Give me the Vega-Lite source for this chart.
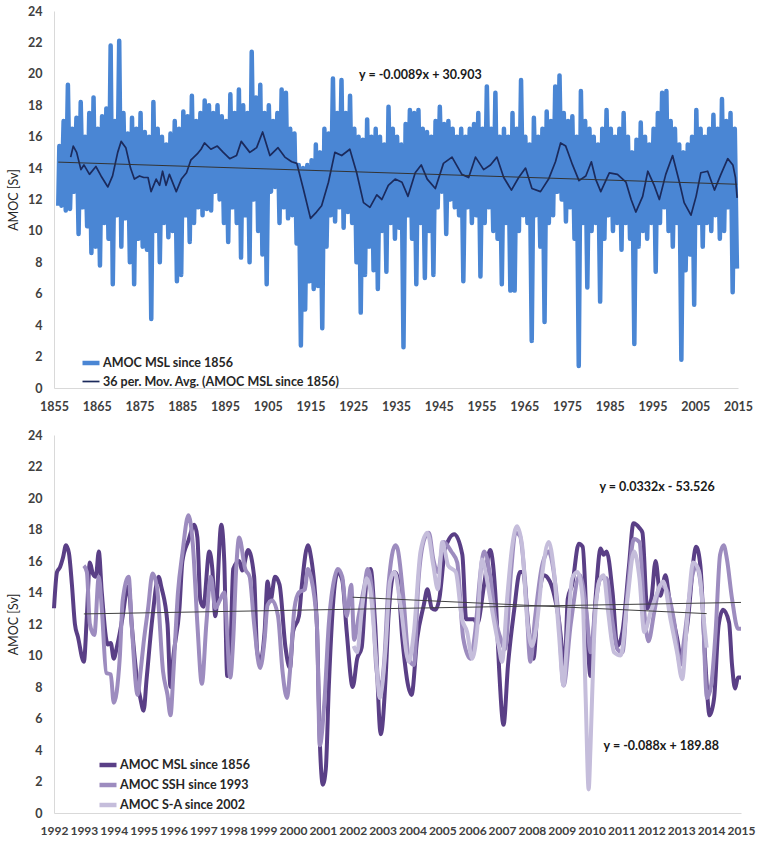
{
"$schema":"https://vega.github.io/schema/vega-lite/v6.json",
"padding":{"left":7,"top":5,"right":5,"bottom":5},
"background":"white",
"config":{"font":"Lato","view":{"stroke":null},
"axis":{"labelFont":"Lato","labelFontWeight":"bold","labelFontSize":12.5,"labelColor":"#404040","domainColor":"#d9d9d9","domainWidth":1,"ticks":false,"grid":false,"labelOverlap":false,"titleFont":"Lato","titleFontWeight":"normal","titleFontSize":12.5,"titleColor":"#262626"},
"legend":{"labelFont":"Lato","labelFontWeight":"bold","labelFontSize":12.5,"labelColor":"#262626","labelLimit":0,"symbolType":"stroke","symbolSize":289,"rowPadding":-2,"labelOffset":1},
"concat":{"spacing":16}},
"resolve":{"scale":{"color":"independent","strokeWidth":"independent","x":"independent","y":"independent"},"legend":{"color":"independent","strokeWidth":"independent"}},
"datasets":{
"top":[{"t":1856.0,"v":11.6},{"t":1856.25,"v":15.4},{"t":1856.75,"v":11.6},{"t":1857.25,"v":17.0},{"t":1857.75,"v":11.3},{"t":1858.25,"v":19.3},{"t":1858.75,"v":11.4},{"t":1859.25,"v":16.5},{"t":1859.75,"v":12.5},{"t":1860.25,"v":17.2},{"t":1860.75,"v":9.8},{"t":1861.25,"v":18.2},{"t":1861.75,"v":11.5},{"t":1862.25,"v":16.0},{"t":1862.75,"v":10.3},{"t":1863.25,"v":17.5},{"t":1863.75,"v":8.6},{"t":1864.25,"v":18.5},{"t":1864.75,"v":9.0},{"t":1865.25,"v":16.5},{"t":1865.75,"v":7.8},{"t":1866.25,"v":17.3},{"t":1866.75,"v":10.5},{"t":1867.25,"v":17.8},{"t":1867.75,"v":9.5},{"t":1868.25,"v":21.8},{"t":1868.75,"v":6.6},{"t":1869.25,"v":17.0},{"t":1869.75,"v":11.0},{"t":1870.25,"v":22.1},{"t":1870.75,"v":9.0},{"t":1871.25,"v":17.5},{"t":1871.75,"v":10.8},{"t":1872.25,"v":16.2},{"t":1872.75,"v":8.0},{"t":1873.25,"v":17.2},{"t":1873.75,"v":6.6},{"t":1874.25,"v":16.5},{"t":1874.75,"v":9.5},{"t":1875.25,"v":17.5},{"t":1875.75,"v":9.0},{"t":1876.25,"v":16.3},{"t":1876.75,"v":8.8},{"t":1877.25,"v":16.0},{"t":1877.75,"v":4.4},{"t":1878.25,"v":18.2},{"t":1878.75,"v":10.0},{"t":1879.25,"v":16.5},{"t":1879.75,"v":8.0},{"t":1880.25,"v":16.0},{"t":1880.75,"v":10.5},{"t":1881.25,"v":15.5},{"t":1881.75,"v":9.6},{"t":1882.25,"v":16.2},{"t":1882.75,"v":10.0},{"t":1883.25,"v":17.0},{"t":1883.75,"v":6.8},{"t":1884.25,"v":16.5},{"t":1884.75,"v":7.2},{"t":1885.25,"v":17.6},{"t":1885.75,"v":11.0},{"t":1886.25,"v":17.3},{"t":1886.75,"v":9.3},{"t":1887.25,"v":18.6},{"t":1887.75,"v":10.5},{"t":1888.25,"v":17.0},{"t":1888.75,"v":11.5},{"t":1889.25,"v":17.5},{"t":1889.75,"v":11.0},{"t":1890.25,"v":18.3},{"t":1890.75,"v":11.4},{"t":1891.25,"v":18.0},{"t":1891.75,"v":11.3},{"t":1892.25,"v":17.5},{"t":1892.75,"v":12.5},{"t":1893.25,"v":18.0},{"t":1893.75,"v":12.0},{"t":1894.25,"v":17.3},{"t":1894.75,"v":10.5},{"t":1895.25,"v":17.0},{"t":1895.75,"v":9.3},{"t":1896.25,"v":18.7},{"t":1896.75,"v":11.5},{"t":1897.25,"v":17.5},{"t":1897.75,"v":10.5},{"t":1898.25,"v":19.0},{"t":1898.75,"v":8.3},{"t":1899.25,"v":18.0},{"t":1899.75,"v":11.0},{"t":1900.25,"v":17.5},{"t":1900.75,"v":8.0},{"t":1901.25,"v":21.4},{"t":1901.75,"v":12.0},{"t":1902.25,"v":18.5},{"t":1902.75,"v":10.0},{"t":1903.25,"v":19.3},{"t":1903.75,"v":8.5},{"t":1904.25,"v":17.5},{"t":1904.75,"v":6.6},{"t":1905.25,"v":18.0},{"t":1905.75,"v":12.5},{"t":1906.25,"v":17.0},{"t":1906.75,"v":12.8},{"t":1907.25,"v":17.5},{"t":1907.75,"v":10.5},{"t":1908.25,"v":19.0},{"t":1908.75,"v":11.5},{"t":1909.25,"v":18.8},{"t":1909.75,"v":10.8},{"t":1910.25,"v":16.5},{"t":1910.75,"v":11.0},{"t":1911.25,"v":16.2},{"t":1911.75,"v":9.2},{"t":1912.25,"v":14.2},{"t":1912.75,"v":2.7},{"t":1913.25,"v":14.0},{"t":1913.75,"v":5.0},{"t":1914.25,"v":14.2},{"t":1914.75,"v":6.8},{"t":1915.25,"v":14.5},{"t":1915.75,"v":6.3},{"t":1916.25,"v":15.5},{"t":1916.75,"v":6.5},{"t":1917.25,"v":15.0},{"t":1917.75,"v":3.8},{"t":1918.25,"v":16.5},{"t":1918.75,"v":9.0},{"t":1919.25,"v":16.2},{"t":1919.75,"v":11.0},{"t":1920.25,"v":19.7},{"t":1920.75,"v":10.6},{"t":1921.25,"v":17.5},{"t":1921.75,"v":11.5},{"t":1922.25,"v":19.6},{"t":1922.75,"v":10.2},{"t":1923.25,"v":17.5},{"t":1923.75,"v":11.2},{"t":1924.25,"v":18.6},{"t":1924.75,"v":10.5},{"t":1925.25,"v":16.5},{"t":1925.75,"v":8.0},{"t":1926.25,"v":16.0},{"t":1926.75,"v":4.8},{"t":1927.25,"v":15.8},{"t":1927.75,"v":7.2},{"t":1928.25,"v":17.1},{"t":1928.75,"v":9.0},{"t":1929.25,"v":16.0},{"t":1929.75,"v":7.5},{"t":1930.25,"v":16.5},{"t":1930.75,"v":6.3},{"t":1931.25,"v":16.0},{"t":1931.75,"v":10.0},{"t":1932.25,"v":15.5},{"t":1932.75,"v":7.4},{"t":1933.25,"v":17.9},{"t":1933.75,"v":10.5},{"t":1934.25,"v":16.5},{"t":1934.75,"v":9.5},{"t":1935.25,"v":16.0},{"t":1935.75,"v":10.2},{"t":1936.25,"v":15.5},{"t":1936.75,"v":2.6},{"t":1937.25,"v":16.8},{"t":1937.75,"v":11.0},{"t":1938.25,"v":17.7},{"t":1938.75,"v":9.5},{"t":1939.25,"v":17.5},{"t":1939.75,"v":6.6},{"t":1940.25,"v":17.7},{"t":1940.75,"v":10.5},{"t":1941.25,"v":16.5},{"t":1941.75,"v":7.0},{"t":1942.25,"v":16.3},{"t":1942.75,"v":10.0},{"t":1943.25,"v":16.0},{"t":1943.75,"v":7.2},{"t":1944.25,"v":17.0},{"t":1944.75,"v":11.5},{"t":1945.25,"v":17.9},{"t":1945.75,"v":12.5},{"t":1946.25,"v":16.8},{"t":1946.75,"v":9.8},{"t":1947.25,"v":17.0},{"t":1947.75,"v":12.0},{"t":1948.25,"v":16.5},{"t":1948.75,"v":11.5},{"t":1949.25,"v":16.0},{"t":1949.75,"v":11.0},{"t":1950.25,"v":16.5},{"t":1950.75,"v":6.8},{"t":1951.25,"v":16.0},{"t":1951.75,"v":11.5},{"t":1952.25,"v":16.5},{"t":1952.75,"v":10.5},{"t":1953.25,"v":16.8},{"t":1953.75,"v":11.0},{"t":1954.25,"v":17.5},{"t":1954.75,"v":7.1},{"t":1955.25,"v":16.5},{"t":1955.75,"v":10.5},{"t":1956.25,"v":19.2},{"t":1956.75,"v":11.5},{"t":1957.25,"v":16.5},{"t":1957.75,"v":10.0},{"t":1958.25,"v":18.8},{"t":1958.75,"v":9.5},{"t":1959.25,"v":16.0},{"t":1959.75,"v":6.6},{"t":1960.25,"v":16.5},{"t":1960.75,"v":10.5},{"t":1961.25,"v":16.0},{"t":1961.75,"v":6.2},{"t":1962.25,"v":17.5},{"t":1962.75,"v":6.2},{"t":1963.25,"v":16.5},{"t":1963.75,"v":10.0},{"t":1964.25,"v":19.6},{"t":1964.75,"v":11.0},{"t":1965.25,"v":16.0},{"t":1965.75,"v":10.5},{"t":1966.25,"v":15.5},{"t":1966.75,"v":3.0},{"t":1967.25,"v":17.2},{"t":1967.75,"v":11.0},{"t":1968.25,"v":16.0},{"t":1968.75,"v":9.0},{"t":1969.25,"v":16.5},{"t":1969.75,"v":4.2},{"t":1970.25,"v":17.6},{"t":1970.75,"v":10.5},{"t":1971.25,"v":17.0},{"t":1971.75,"v":11.0},{"t":1972.25,"v":19.2},{"t":1972.75,"v":12.5},{"t":1973.25,"v":19.9},{"t":1973.75,"v":12.0},{"t":1974.25,"v":17.5},{"t":1974.75,"v":10.6},{"t":1975.25,"v":17.0},{"t":1975.75,"v":11.5},{"t":1976.25,"v":17.3},{"t":1976.75,"v":9.5},{"t":1977.25,"v":16.0},{"t":1977.75,"v":1.4},{"t":1978.25,"v":18.9},{"t":1978.75,"v":10.5},{"t":1979.25,"v":17.0},{"t":1979.75,"v":6.4},{"t":1980.25,"v":16.5},{"t":1980.75,"v":10.0},{"t":1981.25,"v":16.0},{"t":1981.75,"v":10.5},{"t":1982.25,"v":15.5},{"t":1982.75,"v":5.5},{"t":1983.25,"v":16.5},{"t":1983.75,"v":9.5},{"t":1984.25,"v":17.7},{"t":1984.75,"v":11.0},{"t":1985.25,"v":16.5},{"t":1985.75,"v":10.0},{"t":1986.25,"v":16.0},{"t":1986.75,"v":10.5},{"t":1987.25,"v":16.5},{"t":1987.75,"v":8.8},{"t":1988.25,"v":17.5},{"t":1988.75,"v":10.5},{"t":1989.25,"v":16.0},{"t":1989.75,"v":9.5},{"t":1990.25,"v":15.0},{"t":1990.75,"v":2.8},{"t":1991.25,"v":15.8},{"t":1991.75,"v":9.0},{"t":1992.25,"v":16.9},{"t":1992.75,"v":10.0},{"t":1993.25,"v":16.0},{"t":1993.75,"v":9.5},{"t":1994.25,"v":15.5},{"t":1994.75,"v":10.5},{"t":1995.25,"v":16.5},{"t":1995.75,"v":7.4},{"t":1996.25,"v":17.5},{"t":1996.75,"v":10.5},{"t":1997.25,"v":18.8},{"t":1997.75,"v":11.5},{"t":1998.25,"v":18.9},{"t":1998.75,"v":10.0},{"t":1999.25,"v":17.0},{"t":1999.75,"v":9.0},{"t":2000.25,"v":16.5},{"t":2000.75,"v":10.5},{"t":2001.25,"v":15.5},{"t":2001.75,"v":1.8},{"t":2002.25,"v":15.0},{"t":2002.75,"v":7.5},{"t":2003.25,"v":15.5},{"t":2003.75,"v":8.5},{"t":2004.25,"v":16.0},{"t":2004.75,"v":5.3},{"t":2005.25,"v":17.7},{"t":2005.75,"v":10.5},{"t":2006.25,"v":16.5},{"t":2006.75,"v":9.0},{"t":2007.25,"v":16.0},{"t":2007.75,"v":10.5},{"t":2008.25,"v":16.5},{"t":2008.75,"v":10.0},{"t":2009.25,"v":17.4},{"t":2009.75,"v":11.0},{"t":2010.25,"v":16.5},{"t":2010.75,"v":9.5},{"t":2011.25,"v":18.4},{"t":2011.75,"v":10.0},{"t":2012.25,"v":17.0},{"t":2012.75,"v":11.5},{"t":2013.25,"v":17.5},{"t":2013.75,"v":6.1},{"t":2014.25,"v":16.5},{"t":2014.75,"v":7.6}],
"ma":[{"t":1858.9,"v":14.7},{"t":1859.5,"v":15.4},{"t":1860.3,"v":15.0},{"t":1861.3,"v":13.9},{"t":1862.0,"v":14.2},{"t":1863.3,"v":13.6},{"t":1864.8,"v":14.1},{"t":1866.0,"v":13.5},{"t":1867.6,"v":12.8},{"t":1868.7,"v":13.5},{"t":1869.9,"v":15.0},{"t":1870.7,"v":15.7},{"t":1871.8,"v":15.3},{"t":1872.9,"v":14.0},{"t":1873.8,"v":13.3},{"t":1875.0,"v":13.5},{"t":1876.0,"v":13.4},{"t":1877.0,"v":13.4},{"t":1877.7,"v":12.5},{"t":1878.9,"v":13.3},{"t":1879.7,"v":12.9},{"t":1880.4,"v":13.8},{"t":1881.2,"v":12.9},{"t":1882.0,"v":13.6},{"t":1883.6,"v":12.5},{"t":1884.8,"v":13.3},{"t":1886.0,"v":13.7},{"t":1887.0,"v":14.5},{"t":1888.5,"v":14.9},{"t":1889.4,"v":15.2},{"t":1890.2,"v":15.6},{"t":1891.7,"v":15.2},{"t":1893.2,"v":15.4},{"t":1894.6,"v":15.0},{"t":1896.1,"v":14.6},{"t":1897.7,"v":14.8},{"t":1898.8,"v":15.7},{"t":1900.8,"v":15.0},{"t":1902.4,"v":15.3},{"t":1903.8,"v":16.3},{"t":1905.5,"v":14.8},{"t":1907.4,"v":15.3},{"t":1909.0,"v":14.7},{"t":1910.6,"v":14.4},{"t":1911.8,"v":14.3},{"t":1913.3,"v":12.7},{"t":1915.0,"v":10.8},{"t":1916.4,"v":11.2},{"t":1917.6,"v":11.6},{"t":1919.2,"v":13.1},{"t":1920.7,"v":15.0},{"t":1922.3,"v":14.8},{"t":1924.2,"v":15.2},{"t":1925.8,"v":13.7},{"t":1927.4,"v":11.8},{"t":1928.9,"v":11.5},{"t":1930.5,"v":12.3},{"t":1931.7,"v":12.0},{"t":1933.2,"v":12.9},{"t":1934.8,"v":13.3},{"t":1936.4,"v":13.1},{"t":1937.8,"v":12.2},{"t":1939.5,"v":13.7},{"t":1940.9,"v":14.2},{"t":1942.3,"v":13.3},{"t":1944.2,"v":12.7},{"t":1946.1,"v":14.3},{"t":1948.1,"v":14.7},{"t":1950.4,"v":13.6},{"t":1952.0,"v":13.4},{"t":1953.6,"v":14.7},{"t":1955.5,"v":13.9},{"t":1957.1,"v":14.2},{"t":1958.6,"v":14.7},{"t":1960.2,"v":13.4},{"t":1962.0,"v":12.6},{"t":1963.7,"v":13.4},{"t":1965.3,"v":14.0},{"t":1966.8,"v":12.7},{"t":1968.8,"v":12.5},{"t":1970.7,"v":13.3},{"t":1972.3,"v":14.4},{"t":1973.5,"v":15.6},{"t":1974.7,"v":15.4},{"t":1975.1,"v":15.1},{"t":1976.3,"v":14.2},{"t":1977.8,"v":13.2},{"t":1979.4,"v":13.5},{"t":1980.7,"v":14.4},{"t":1981.7,"v":13.3},{"t":1982.9,"v":12.5},{"t":1984.9,"v":13.7},{"t":1986.8,"v":13.6},{"t":1988.8,"v":13.1},{"t":1990.0,"v":12.0},{"t":1991.1,"v":11.2},{"t":1992.7,"v":12.2},{"t":1993.9,"v":13.8},{"t":1995.4,"v":12.9},{"t":1996.6,"v":12.0},{"t":1998.1,"v":13.6},{"t":1999.7,"v":14.8},{"t":2001.3,"v":13.1},{"t":2002.4,"v":11.8},{"t":2004.0,"v":11.0},{"t":2005.2,"v":12.2},{"t":2006.3,"v":13.7},{"t":2007.9,"v":13.8},{"t":2009.5,"v":12.6},{"t":2011.0,"v":13.6},{"t":2012.6,"v":14.6},{"t":2013.8,"v":14.2},{"t":2014.4,"v":13.4},{"t":2014.8,"v":12.1}],
"trendTop":[{"t":1856.0,"v":14.38},{"t":2014.8,"v":12.97}],
"msl":[{"t":1992.0,"v":13.0},{"t":1992.1,"v":15.3},{"t":1992.2,"v":15.6},{"t":1992.3,"v":16.2},{"t":1992.4,"v":17.0},{"t":1992.5,"v":16.5},{"t":1992.6,"v":14.5},{"t":1992.7,"v":12.0},{"t":1992.8,"v":11.2},{"t":1993.0,"v":9.6},{"t":1993.1,"v":12.5},{"t":1993.2,"v":15.9},{"t":1993.3,"v":15.2},{"t":1993.4,"v":15.0},{"t":1993.5,"v":16.6},{"t":1993.6,"v":14.0},{"t":1993.8,"v":10.7},{"t":1993.9,"v":10.8},{"t":1994.0,"v":9.8},{"t":1994.1,"v":10.5},{"t":1994.3,"v":12.5},{"t":1994.4,"v":13.8},{"t":1994.5,"v":14.4},{"t":1994.6,"v":12.0},{"t":1994.8,"v":8.2},{"t":1994.9,"v":7.2},{"t":1995.0,"v":6.5},{"t":1995.1,"v":8.5},{"t":1995.3,"v":12.5},{"t":1995.5,"v":15.0},{"t":1995.6,"v":14.3},{"t":1995.8,"v":12.0},{"t":1995.9,"v":8.0},{"t":1996.0,"v":10.0},{"t":1996.2,"v":13.0},{"t":1996.3,"v":16.0},{"t":1996.5,"v":17.3},{"t":1996.7,"v":18.3},{"t":1996.8,"v":17.5},{"t":1996.9,"v":13.5},{"t":1997.0,"v":13.1},{"t":1997.2,"v":16.6},{"t":1997.3,"v":15.5},{"t":1997.4,"v":12.5},{"t":1997.6,"v":18.3},{"t":1997.7,"v":16.0},{"t":1997.8,"v":8.7},{"t":1997.9,"v":10.0},{"t":1998.0,"v":15.5},{"t":1998.2,"v":16.0},{"t":1998.3,"v":15.4},{"t":1998.5,"v":16.7},{"t":1998.7,"v":15.0},{"t":1998.8,"v":10.3},{"t":1998.9,"v":9.6},{"t":1999.05,"v":11.5},{"t":1999.15,"v":14.7},{"t":1999.25,"v":13.5},{"t":1999.4,"v":15.0},{"t":1999.55,"v":14.5},{"t":1999.75,"v":10.5},{"t":1999.9,"v":9.2},{"t":2000.0,"v":11.5},{"t":2000.2,"v":12.5},{"t":2000.3,"v":14.5},{"t":2000.5,"v":17.0},{"t":2000.6,"v":16.3},{"t":2000.8,"v":12.0},{"t":2000.9,"v":4.5},{"t":2001.0,"v":1.8},{"t":2001.1,"v":2.8},{"t":2001.2,"v":8.0},{"t":2001.4,"v":14.5},{"t":2001.5,"v":15.3},{"t":2001.65,"v":14.8},{"t":2001.8,"v":11.5},{"t":2002.0,"v":8.0},{"t":2002.15,"v":9.8},{"t":2002.3,"v":10.5},{"t":2002.45,"v":14.5},{"t":2002.6,"v":15.5},{"t":2002.75,"v":12.0},{"t":2002.94,"v":5.0},{"t":2003.1,"v":8.5},{"t":2003.2,"v":12.5},{"t":2003.4,"v":15.3},{"t":2003.5,"v":15.0},{"t":2003.66,"v":11.1},{"t":2003.97,"v":7.5},{"t":2004.16,"v":11.1},{"t":2004.38,"v":13.2},{"t":2004.5,"v":14.2},{"t":2004.65,"v":13.0},{"t":2004.77,"v":12.9},{"t":2004.9,"v":13.6},{"t":2005.1,"v":16.8},{"t":2005.4,"v":17.7},{"t":2005.67,"v":16.4},{"t":2005.8,"v":12.3},{"t":2006.06,"v":12.3},{"t":2006.17,"v":12.0},{"t":2006.4,"v":14.5},{"t":2006.6,"v":16.7},{"t":2006.8,"v":13.2},{"t":2006.9,"v":9.2},{"t":2007.05,"v":5.6},{"t":2007.2,"v":9.4},{"t":2007.4,"v":12.8},{"t":2007.6,"v":15.3},{"t":2007.7,"v":15.3},{"t":2007.9,"v":11.5},{"t":2008.05,"v":9.8},{"t":2008.2,"v":13.2},{"t":2008.4,"v":15.1},{"t":2008.6,"v":14.7},{"t":2008.9,"v":12.3},{"t":2009.1,"v":9.4},{"t":2009.2,"v":13.6},{"t":2009.35,"v":14.5},{"t":2009.57,"v":17.1},{"t":2009.7,"v":16.9},{"t":2009.85,"v":11.5},{"t":2009.96,"v":8.7},{"t":2010.13,"v":13.6},{"t":2010.3,"v":16.8},{"t":2010.4,"v":16.4},{"t":2010.5,"v":16.6},{"t":2010.7,"v":14.0},{"t":2010.86,"v":10.6},{"t":2011.03,"v":11.5},{"t":2011.25,"v":15.7},{"t":2011.4,"v":18.4},{"t":2011.6,"v":18.1},{"t":2011.7,"v":17.8},{"t":2011.86,"v":13.0},{"t":2012.0,"v":13.6},{"t":2012.14,"v":16.0},{"t":2012.3,"v":13.8},{"t":2012.47,"v":15.1},{"t":2012.6,"v":13.6},{"t":2012.86,"v":11.1},{"t":2013.0,"v":9.8},{"t":2013.2,"v":11.9},{"t":2013.5,"v":16.9},{"t":2013.64,"v":15.7},{"t":2013.8,"v":9.8},{"t":2013.95,"v":6.2},{"t":2014.1,"v":7.3},{"t":2014.25,"v":11.9},{"t":2014.4,"v":12.9},{"t":2014.6,"v":12.1},{"t":2014.7,"v":9.4},{"t":2014.8,"v":7.9},{"t":2014.9,"v":8.6},{"t":2015.0,"v":8.6}],
"ssh":[{"t":1993.0,"v":15.7},{"t":1993.1,"v":15.3},{"t":1993.2,"v":12.0},{"t":1993.35,"v":11.3},{"t":1993.5,"v":15.0},{"t":1993.6,"v":13.0},{"t":1993.75,"v":8.9},{"t":1993.9,"v":8.8},{"t":1994.0,"v":7.0},{"t":1994.2,"v":9.8},{"t":1994.3,"v":13.5},{"t":1994.5,"v":15.0},{"t":1994.6,"v":12.0},{"t":1994.8,"v":7.5},{"t":1994.9,"v":9.0},{"t":1995.0,"v":10.8},{"t":1995.15,"v":13.0},{"t":1995.3,"v":15.2},{"t":1995.45,"v":14.3},{"t":1995.65,"v":9.0},{"t":1995.8,"v":7.5},{"t":1995.9,"v":6.2},{"t":1996.0,"v":9.0},{"t":1996.15,"v":14.0},{"t":1996.3,"v":16.5},{"t":1996.5,"v":18.9},{"t":1996.65,"v":17.0},{"t":1996.8,"v":12.0},{"t":1996.95,"v":8.2},{"t":1997.1,"v":12.0},{"t":1997.25,"v":15.0},{"t":1997.4,"v":13.0},{"t":1997.55,"v":13.5},{"t":1997.7,"v":14.0},{"t":1997.9,"v":8.6},{"t":1998.0,"v":11.0},{"t":1998.1,"v":15.5},{"t":1998.2,"v":17.5},{"t":1998.4,"v":15.5},{"t":1998.55,"v":15.0},{"t":1998.7,"v":12.0},{"t":1998.9,"v":9.2},{"t":1999.05,"v":11.0},{"t":1999.15,"v":13.2},{"t":1999.3,"v":13.5},{"t":1999.5,"v":12.5},{"t":1999.65,"v":9.0},{"t":1999.8,"v":7.3},{"t":1999.9,"v":9.0},{"t":2000.05,"v":13.0},{"t":2000.2,"v":14.0},{"t":2000.4,"v":14.2},{"t":2000.5,"v":15.5},{"t":2000.6,"v":15.0},{"t":2000.8,"v":12.0},{"t":2000.9,"v":4.3},{"t":2001.05,"v":7.0},{"t":2001.2,"v":12.0},{"t":2001.4,"v":15.0},{"t":2001.5,"v":15.5},{"t":2001.65,"v":15.0},{"t":2001.8,"v":12.5},{"t":2001.95,"v":14.5},{"t":2002.05,"v":11.0},{"t":2002.2,"v":12.5},{"t":2002.4,"v":14.5},{"t":2002.5,"v":15.5},{"t":2002.65,"v":14.0},{"t":2002.8,"v":9.0},{"t":2002.95,"v":8.0},{"t":2003.05,"v":9.5},{"t":2003.2,"v":14.5},{"t":2003.43,"v":17.0},{"t":2003.5,"v":16.8},{"t":2003.7,"v":13.6},{"t":2003.88,"v":9.8},{"t":2004.05,"v":9.4},{"t":2004.2,"v":14.7},{"t":2004.4,"v":17.4},{"t":2004.55,"v":17.8},{"t":2004.7,"v":16.1},{"t":2004.85,"v":15.3},{"t":2005.05,"v":17.2},{"t":2005.3,"v":16.6},{"t":2005.5,"v":15.9},{"t":2005.7,"v":11.1},{"t":2005.94,"v":9.8},{"t":2006.1,"v":11.5},{"t":2006.28,"v":15.3},{"t":2006.4,"v":16.6},{"t":2006.6,"v":15.1},{"t":2006.78,"v":12.3},{"t":2006.95,"v":11.1},{"t":2007.1,"v":10.4},{"t":2007.3,"v":15.3},{"t":2007.45,"v":17.8},{"t":2007.6,"v":17.6},{"t":2007.78,"v":14.5},{"t":2007.95,"v":9.6},{"t":2008.1,"v":12.3},{"t":2008.34,"v":15.7},{"t":2008.56,"v":16.6},{"t":2008.73,"v":15.3},{"t":2008.9,"v":12.3},{"t":2009.06,"v":8.1},{"t":2009.3,"v":12.0},{"t":2009.6,"v":15.1},{"t":2009.7,"v":14.5},{"t":2009.85,"v":12.3},{"t":2009.96,"v":10.2},{"t":2010.13,"v":13.2},{"t":2010.3,"v":14.9},{"t":2010.5,"v":14.9},{"t":2010.7,"v":12.1},{"t":2010.86,"v":10.4},{"t":2011.03,"v":10.2},{"t":2011.2,"v":14.0},{"t":2011.42,"v":17.4},{"t":2011.6,"v":17.2},{"t":2011.76,"v":12.8},{"t":2011.9,"v":10.9},{"t":2012.1,"v":12.8},{"t":2012.3,"v":14.5},{"t":2012.5,"v":14.2},{"t":2012.75,"v":12.3},{"t":2012.97,"v":9.4},{"t":2013.1,"v":11.1},{"t":2013.4,"v":15.3},{"t":2013.5,"v":15.7},{"t":2013.7,"v":13.6},{"t":2013.86,"v":7.3},{"t":2014.0,"v":8.1},{"t":2014.15,"v":11.5},{"t":2014.3,"v":16.4},{"t":2014.42,"v":17.0},{"t":2014.53,"v":16.1},{"t":2014.7,"v":13.6},{"t":2014.9,"v":11.7},{"t":2015.0,"v":11.7}],
"sa":[{"t":2002.03,"v":10.6},{"t":2002.15,"v":10.2},{"t":2002.3,"v":12.8},{"t":2002.47,"v":14.9},{"t":2002.6,"v":14.0},{"t":2002.8,"v":9.4},{"t":2002.9,"v":7.3},{"t":2003.1,"v":10.4},{"t":2003.25,"v":14.7},{"t":2003.4,"v":15.3},{"t":2003.6,"v":13.2},{"t":2003.88,"v":9.6},{"t":2004.05,"v":11.5},{"t":2004.27,"v":16.6},{"t":2004.5,"v":17.8},{"t":2004.7,"v":15.7},{"t":2004.85,"v":14.2},{"t":2005.0,"v":17.2},{"t":2005.2,"v":15.7},{"t":2005.45,"v":15.3},{"t":2005.66,"v":12.3},{"t":2005.83,"v":11.5},{"t":2006.0,"v":9.8},{"t":2006.17,"v":11.7},{"t":2006.33,"v":16.1},{"t":2006.55,"v":14.2},{"t":2006.72,"v":12.3},{"t":2006.89,"v":10.6},{"t":2007.0,"v":9.6},{"t":2007.17,"v":13.6},{"t":2007.33,"v":16.8},{"t":2007.5,"v":18.2},{"t":2007.67,"v":17.0},{"t":2007.84,"v":12.3},{"t":2008.0,"v":10.6},{"t":2008.17,"v":12.1},{"t":2008.34,"v":15.1},{"t":2008.56,"v":17.2},{"t":2008.73,"v":15.5},{"t":2008.9,"v":11.5},{"t":2009.06,"v":8.1},{"t":2009.18,"v":11.1},{"t":2009.35,"v":14.9},{"t":2009.52,"v":15.3},{"t":2009.7,"v":13.6},{"t":2009.8,"v":7.3},{"t":2009.9,"v":1.5},{"t":2009.96,"v":4.1},{"t":2010.08,"v":11.1},{"t":2010.25,"v":14.7},{"t":2010.4,"v":15.1},{"t":2010.55,"v":12.8},{"t":2010.75,"v":10.2},{"t":2010.97,"v":10.0},{"t":2011.2,"v":13.6},{"t":2011.42,"v":16.6},{"t":2011.6,"v":14.9},{"t":2011.76,"v":11.5},{"t":2011.98,"v":12.8},{"t":2012.2,"v":14.0},{"t":2012.4,"v":14.7},{"t":2012.64,"v":12.3},{"t":2012.86,"v":10.2},{"t":2013.03,"v":8.5},{"t":2013.2,"v":12.3},{"t":2013.4,"v":15.9},{"t":2013.6,"v":15.3},{"t":2013.75,"v":12.3},{"t":2013.85,"v":10.5}],
"trendB":[{"g":"ssh","t":1993.0,"v":12.64},{"g":"ssh","t":2015.0,"v":13.37},{"g":"sa","t":2002.0,"v":13.70},{"g":"sa","t":2013.85,"v":12.66}]
},
"vconcat":[
{"width":684,"height":377,
"encoding":{
"x":{"field":"t","type":"quantitative","scale":{"domain":[1855,2015],"nice":false,"zero":false},"axis":{"values":[1855,1865,1875,1885,1895,1905,1915,1925,1935,1945,1955,1965,1975,1985,1995,2005,2015],"format":"d","title":null,"labelPadding":12,"labelFlush":false,"labelOverlap":false}},
"y":{"field":"v","type":"quantitative","scale":{"domain":[0,24],"nice":false},"axis":{"values":[0,2,4,6,8,10,12,14,16,18,20,22,24],"title":"AMOC [Sv]","labelPadding":12,"titlePadding":7,"labelOverlap":false}}},
"layer":[
{"data":{"name":"top"},"mark":{"type":"line","strokeJoin":"round"},
"encoding":{
"color":{"datum":"AMOC MSL since 1856","type":"nominal","scale":{"domain":["AMOC MSL since 1856","36 per. Mov. Avg. (AMOC MSL since 1856)"],"range":["#4a86d4","#1b2a5c"]},"legend":{"title":null,"orient":"none","legendX":26,"legendY":341,"rowPadding":-2}},
"strokeWidth":{"datum":"AMOC MSL since 1856","type":"nominal","scale":{"type":"point","padding":0,"domain":["AMOC MSL since 1856","36 per. Mov. Avg. (AMOC MSL since 1856)"],"range":[4.5,1.7]},"legend":{"title":null,"orient":"none","legendX":26,"legendY":341,"rowPadding":-2}}
}},
{"data":{"name":"ma"},"mark":{"type":"line","strokeJoin":"round"},
"encoding":{
"color":{"datum":"36 per. Mov. Avg. (AMOC MSL since 1856)","type":"nominal"},
"strokeWidth":{"datum":"36 per. Mov. Avg. (AMOC MSL since 1856)","type":"nominal"}}},
{"data":{"name":"trendTop"},"mark":{"type":"line","color":"#333333","strokeWidth":1},"encoding":{}},
{"data":{"values":[{"t":1940.7,"v":19.9,"label":"y = -0.0089x + 30.903"}]},"mark":{"type":"text","font":"Lato","fontWeight":"bold","fontSize":12.5,"color":"#1a1a1a"},
"encoding":{"text":{"field":"label"}}}
]},
{"width":687,"height":378,
"encoding":{
"x":{"field":"t","type":"quantitative","scale":{"domain":[1992,2015],"nice":false,"zero":false},"axis":{"values":[1992,1993,1994,1995,1996,1997,1998,1999,2000,2001,2002,2003,2004,2005,2006,2007,2008,2009,2010,2011,2012,2013,2014,2015],"format":"d","title":null,"labelPadding":12,"labelFlush":false,"labelOverlap":false,"labelFontSize":12}},
"y":{"field":"v","type":"quantitative","scale":{"domain":[0,24],"nice":false},"axis":{"values":[0,2,4,6,8,10,12,14,16,18,20,22,24],"title":"AMOC [Sv]","labelPadding":12,"titlePadding":7,"labelOverlap":false}}},
"layer":[
{"data":{"name":"msl"},"mark":{"type":"line","strokeWidth":4,"interpolate":"monotone","strokeJoin":"round"},
"encoding":{
"color":{"datum":"AMOC MSL since 1856","type":"nominal","scale":{"domain":["AMOC MSL since 1856","AMOC SSH since 1993","AMOC S-A since 2002"],"range":["#5a3f86","#9d8cbf","#c5bddb"]},"legend":{"title":null,"orient":"none","legendX":43,"legendY":319,"symbolStrokeWidth":4.5,"rowPadding":-4}}
}},
{"data":{"name":"ssh"},"mark":{"type":"line","strokeWidth":4,"interpolate":"monotone","strokeJoin":"round"},
"encoding":{"color":{"datum":"AMOC SSH since 1993","type":"nominal"}}},
{"data":{"name":"sa"},"mark":{"type":"line","strokeWidth":4,"interpolate":"monotone","strokeJoin":"round"},
"encoding":{"color":{"datum":"AMOC S-A since 2002","type":"nominal"}}},
{"data":{"name":"trendB"},"mark":{"type":"line","color":"#404040","strokeWidth":1},
"encoding":{"detail":{"field":"g"}}},
{"data":{"values":[{"t":2012.19,"v":20.7,"label":"y = 0.0332x - 53.526"},{"t":2012.33,"v":4.25,"label":"y = -0.088x + 189.88"}]},"mark":{"type":"text","font":"Lato","fontWeight":"bold","fontSize":12.5,"color":"#1a1a1a"},
"encoding":{"text":{"field":"label"}}}
]}
]
}
